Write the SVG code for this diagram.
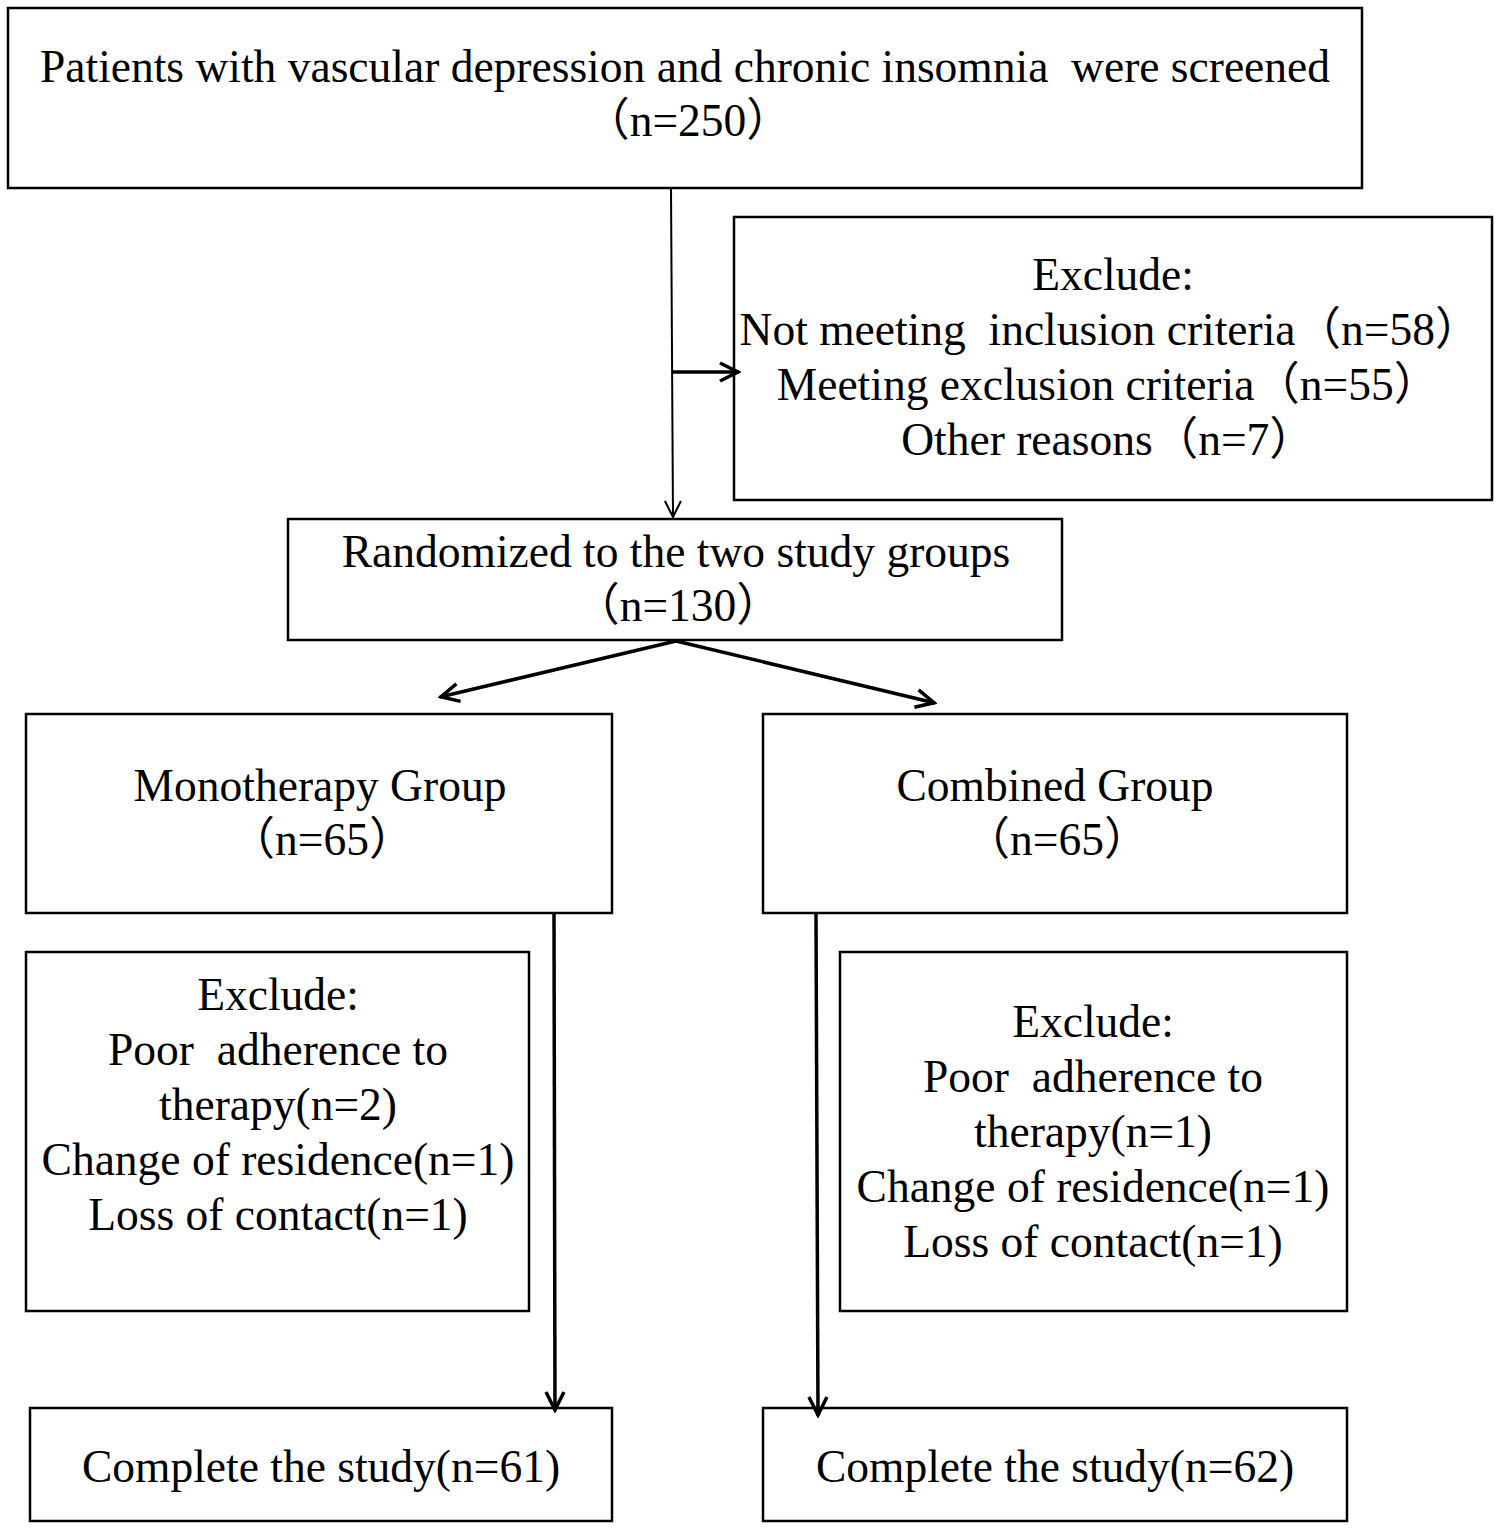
<svg xmlns="http://www.w3.org/2000/svg" width="1499" height="1530" viewBox="0 0 1499 1530" xml:space="preserve">
<style>
.box{fill:#fff;stroke:#000;stroke-width:2.5}
text{font-family:"Liberation Serif","Noto Sans CJK SC",serif;font-size:45.5px;fill:#000;text-anchor:middle;white-space:pre}
.thin{stroke:#000;stroke-width:2;fill:none}
.thick{stroke:#000;stroke-width:3.5;fill:none}
</style>
<defs>
<marker id="ah" viewBox="0 0 20 20" refX="18" refY="10" markerWidth="20" markerHeight="20" markerUnits="userSpaceOnUse" orient="auto">
<path d="M2,2 L18,10 L2,18" fill="none" stroke="#000" stroke-width="2"/>
</marker>
<marker id="ahb" viewBox="0 0 24 24" refX="22" refY="12" markerWidth="24" markerHeight="24" markerUnits="userSpaceOnUse" orient="auto">
<path d="M3,3 L21,12 L3,21" fill="none" stroke="#000" stroke-width="3.5"/>
</marker>
</defs>
<g id="n-screened">
<rect class="box" x="8" y="8" width="1354" height="180"/>
<text x="685" y="82">Patients with vascular depression and chronic insomnia  were screened</text>
<text x="688" y="136">（n=250）</text>
</g>
<g id="n-exclude1">
<rect class="box" x="734" y="217" width="758" height="283"/>
<text x="1113" y="290">Exclude:</text>
<text x="1110" y="345">Not meeting  inclusion criteria（n=58）</text>
<text x="1108" y="400">Meeting exclusion criteria（n=55）</text>
<text x="1108" y="455">Other reasons（n=7）</text>
</g>
<g id="n-random">
<rect class="box" x="288" y="519" width="774" height="121"/>
<text x="676" y="567">Randomized to the two study groups</text>
<text x="678" y="621">（n=130）</text>
</g>
<g id="n-mono">
<rect class="box" x="26" y="714" width="586" height="199"/>
<text x="320" y="801">Monotherapy Group</text>
<text x="322" y="855">（n=65）</text>
</g>
<g id="n-comb">
<rect class="box" x="763" y="714" width="584" height="199"/>
<text x="1055" y="801">Combined Group</text>
<text x="1057" y="855">（n=65）</text>
</g>
<g id="n-exclude2">
<rect class="box" x="26" y="952" width="503" height="359"/>
<text x="278" y="1010">Exclude:</text>
<text x="278" y="1065">Poor  adherence to</text>
<text x="278" y="1120">therapy(n=2)</text>
<text x="278" y="1175">Change of residence(n=1)</text>
<text x="278" y="1230">Loss of contact(n=1)</text>
</g>
<g id="n-exclude3">
<rect class="box" x="840" y="952" width="507" height="359"/>
<text x="1093" y="1037">Exclude:</text>
<text x="1093" y="1092">Poor  adherence to</text>
<text x="1093" y="1147">therapy(n=1)</text>
<text x="1093" y="1202">Change of residence(n=1)</text>
<text x="1093" y="1257">Loss of contact(n=1)</text>
</g>
<g id="n-complete1">
<rect class="box" x="30" y="1408" width="582" height="113"/>
<text x="321" y="1482">Complete the study(n=61)</text>
</g>
<g id="n-complete2">
<rect class="box" x="763" y="1408" width="584" height="113"/>
<text x="1055" y="1482">Complete the study(n=62)</text>
</g>
<g id="connectors">
<path class="thin" d="M671,188 L673,517" marker-end="url(#ah)"/>
<path class="thick" d="M672,372 L739,372" marker-end="url(#ahb)"/>
<path class="thick" d="M676,641 L440,697" marker-end="url(#ahb)"/>
<path class="thick" d="M676,641 L935,703" marker-end="url(#ahb)"/>
<path class="thick" d="M554,913 L555,1411" marker-end="url(#ahb)"/>
<path class="thick" d="M816,913 L818,1416" marker-end="url(#ahb)"/>
</g>
</svg>
